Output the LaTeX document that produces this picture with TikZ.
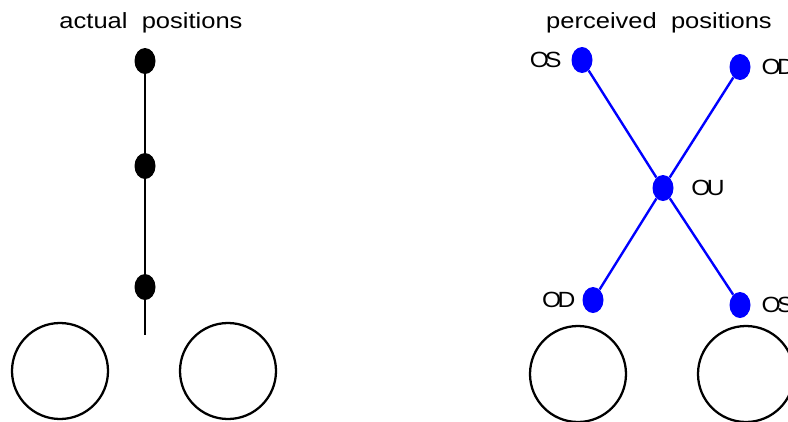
\documentclass[tikz,border=0pt]{standalone}
\usepackage{fontspec}
\setmainfont{Liberation Sans}
\newfontfamily\titlefont[FakeStretch=1.16]{Liberation Sans}
\newfontfamily\lblfont[FakeStretch=1.12]{Liberation Sans}
\usetikzlibrary{positioning,shapes.geometric}

\begin{document}
\begin{tikzpicture}[x=0.75pt, y=-0.75pt,
  title/.style={anchor=base, inner sep=0pt, font=\titlefont\fontsize{16.5}{18}\selectfont},
  actdot/.style={ellipse, fill=black, minimum width=15.75pt, minimum height=19.5pt, inner sep=0pt},
  perdot/.style={ellipse, fill=blue, minimum width=15.75pt, minimum height=19.5pt, inner sep=0pt},
  lbl/.style={inner sep=0pt, font=\lblfont\fontsize{16.5}{18}\selectfont},
  eye/.style={circle, draw=black, line width=1.7pt, minimum size=72pt, inner sep=0pt},
  actline/.style={line width=1.8pt, draw=black},
  perline/.style={line width=1.8pt, draw=blue}
]
\useasboundingbox (0,0) rectangle (788,421);
% actual positions
\node[title] (tact) at (151,28) {actual\ \ positions};
\node[actdot] (a1) at (145,61) {};
\node[actdot] (a2) at (145,166) {};
\node[actdot] (a3) at (145,287) {};
\coordinate (aend) at (145,335);
\draw[actline] (a1) -- (a2);
\draw[actline] (a2) -- (a3);
\draw[actline] (a3) -- (aend);
\node[eye] (le1) at (60,371) {};
\node[eye] (re1) at (228,371) {};
% perceived positions
\node[title] (tper) at (659,28) {perceived\ \ positions};
\node[perdot] (ptl) at (582,60) {};
\node[perdot] (ptr) at (740,67) {};
\node[perdot] (pc) at (663,188) {};
\node[perdot] (pbl) at (593,300) {};
\node[perdot] (pbr) at (740,305) {};
\draw[perline] (ptl) -- (pc);
\draw[perline] (pc) -- (pbr);
\draw[perline] (ptr) -- (pc);
\draw[perline] (pc) -- (pbl);
\node[lbl, left=7pt of ptl] (ltl) {O\kern-.17em S};
\node[lbl, right=8pt of ptr] (ltr) {O\kern-.17em D};
\node[lbl, right=13pt of pc] (lc) {O\kern-.17em U};
\node[lbl, left=5pt of pbl] (lbl) {O\kern-.17em D};
\node[lbl, right=8pt of pbr] (lbr) {O\kern-.17em S};
\node[eye] (le2) at (578,374) {};
\node[eye] (re2) at (746,374) {};
\end{tikzpicture}
\end{document}
